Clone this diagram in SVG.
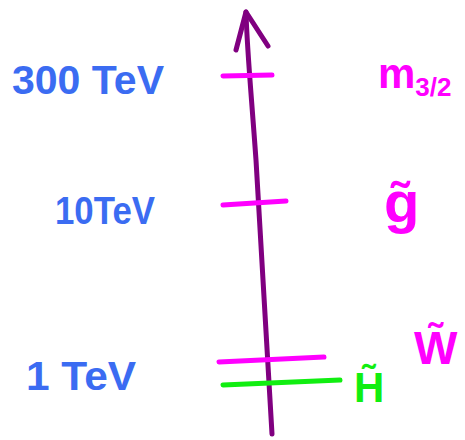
<svg xmlns="http://www.w3.org/2000/svg" width="465" height="440" viewBox="0 0 465 440">
<style>
.scale{fill:#3b6cf2;font-family:"Liberation Sans",Arial,sans-serif;font-weight:bold}
.mag{fill:#ff00ff;font-family:"Liberation Sans",Arial,sans-serif;font-weight:bold}
.grn{fill:#11ee11;font-family:"Liberation Sans",Arial,sans-serif;font-weight:bold}
.tick{fill:none;stroke:#ff00ff;stroke-width:5;stroke-linecap:round}
.tickg{fill:none;stroke:#11ee11;stroke-width:5;stroke-linecap:round}
.axis{fill:none;stroke:#800080;stroke-width:5;stroke-linecap:round;stroke-linejoin:round}
</style>
<g id="connectors">
<path class="axis" d="M272,434 C268,360 262,260 256,160 C251,90 247,50 246,12"/>
<path class="axis" d="M236,50 L246,12 L268,46"/>
</g>
<g id="tick-300">
<line class="tick" x1="223" y1="76" x2="272" y2="75"/>
<text class="scale" x="12" y="94" font-size="40" textLength="152" lengthAdjust="spacingAndGlyphs">300 TeV</text>
<text class="mag" x="378" y="88" font-size="42">m<tspan font-size="26" dy="8">3/2</tspan></text>
</g>
<g id="tick-10">
<line class="tick" x1="223" y1="205" x2="286" y2="201"/>
<text class="scale" x="55" y="224" font-size="38" textLength="100" lengthAdjust="spacingAndGlyphs">10TeV</text>
<text class="mag" x="384" y="222" font-size="58">g̃</text>
</g>
<g id="tick-1">
<line class="tick" x1="219" y1="362" x2="324" y2="357"/>
<line class="tickg" x1="223" y1="385" x2="340" y2="380"/>
<text class="scale" x="26" y="390" font-size="40" textLength="110" lengthAdjust="spacingAndGlyphs">1  TeV</text>
<text class="mag" x="414" y="364" font-size="46">W̃</text>
<text class="grn" x="354" y="402" font-size="42">H̃</text>
</g>
</svg>
